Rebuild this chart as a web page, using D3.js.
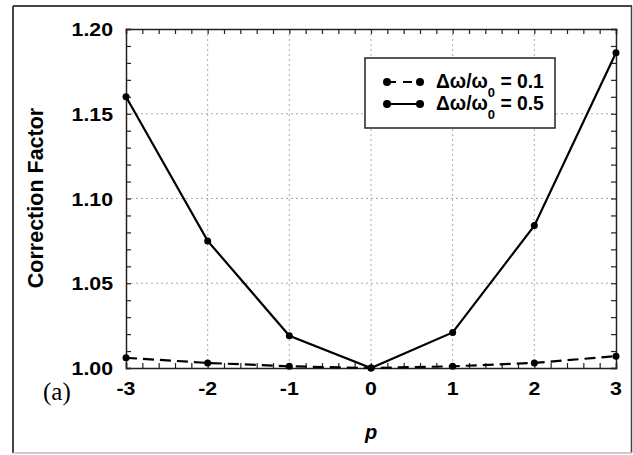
<!DOCTYPE html>
<html>
<head>
<meta charset="utf-8">
<script src="https://cdn.jsdelivr.net/npm/d3@7"></script>
<style>
body{margin:0;background:#fff;}
</style>
</head>
<body>
<div id="vis"></div>
<script>
// data
var pValues = [-3,-2,-1,0,1,2,3];
var cf01 = [1.006,1.003,1.001,1.000,1.001,1.003,1.007];
var cf05 = [1.160,1.075,1.019,1.000,1.021,1.084,1.186];
var xTicks = [-3,-2,-1,0,1,2,3];
var yTicks = [1.00,1.05,1.10,1.15,1.20];
var legendLabels = ["0.1","0.5"];

var sans = "Arial,'Liberation Sans',sans-serif";
var svg = d3.select("#vis").append("svg").attr("width",633).attr("height",455)
    .style("font-family",sans);

// the source figure's lettering is a bit wider than plain Arial
function widen(sel, k){
    sel.each(function(){
        var w = this.getComputedTextLength();
        d3.select(this).attr("textLength",w*k).attr("lengthAdjust","spacingAndGlyphs");});}

// outer frame: dark top/left/right, light bottom
svg.append("line").attr("x1",13).attr("x2",632).attr("y1",6).attr("y2",6).attr("stroke","#444").attr("stroke-width",2);
svg.append("line").attr("x1",13).attr("x2",13).attr("y1",6).attr("y2",453).attr("stroke","#444").attr("stroke-width",2);
svg.append("line").attr("x1",631.5).attr("x2",631.5).attr("y1",6).attr("y2",453).attr("stroke","#444").attr("stroke-width",1.5);
svg.append("line").attr("x1",13).attr("x2",632).attr("y1",453).attr("y2",453).attr("stroke","#bbb").attr("stroke-width",1.5);

var x = d3.scaleLinear().domain([-3,3]).range([126,616]);
var y = d3.scaleLinear().domain([1.0,1.2]).range([368,29]);

// grid lines
svg.append("g").selectAll("line").data(xTicks.slice(1,-1)).enter().append("line")
    .attr("x1",d=>x(d)).attr("x2",d=>x(d)).attr("y1",y(1.2)).attr("y2",y(1.0))
    .attr("stroke","#aaa").attr("stroke-width",1).attr("stroke-dasharray","2,3");
svg.append("g").selectAll("line").data(yTicks.slice(1,-1)).enter().append("line")
    .attr("x1",x(-3)).attr("x2",x(3)).attr("y1",d=>y(d)).attr("y2",d=>y(d))
    .attr("stroke","#aaa").attr("stroke-width",1).attr("stroke-dasharray","2,3");

// axes with inside ticks on all four sides
var fmt = d3.format(".2f");
var minorX = d3.range(-3,3.001,0.2), minorY = d3.range(1.0,1.2001,0.01);
function addAxis(axis, tr){
    return svg.append("g").attr("transform",tr).call(axis);}
var axB = addAxis(d3.axisBottom(x).tickValues(minorX).tickSize(-5).tickFormat(""), "translate(0,"+y(1.0)+")");
var axT = addAxis(d3.axisTop(x).tickValues(minorX).tickSize(-5).tickFormat(""), "translate(0,"+y(1.2)+")");
var axL = addAxis(d3.axisLeft(y).tickValues(minorY).tickSize(-5).tickFormat(""), "translate("+x(-3)+",0)");
var axR = addAxis(d3.axisRight(y).tickValues(minorY).tickSize(-5).tickFormat(""), "translate("+x(3)+",0)");
[axB,axT,axL,axR].forEach(function(a){
    a.select(".domain").attr("stroke","#222").attr("stroke-width",1.5);
    a.selectAll(".tick line").attr("stroke","#222").attr("stroke-width",1.2);});

// tick labels
var xl = svg.append("g").selectAll("text").data(xTicks).enter().append("text")
    .attr("x",d=>x(d)).attr("y",395).attr("text-anchor","middle")
    .attr("font-size",18.5).attr("font-weight","bold").text(d=>d);
widen(xl,1.15);
var yl = svg.append("g").selectAll("text").data(yTicks).enter().append("text")
    .attr("x",113).attr("y",d=>y(d)+7).attr("text-anchor","end")
    .attr("font-size",18.5).attr("font-weight","bold").text(d=>fmt(d));
widen(yl,1.15);

// axis titles
svg.append("text").attr("transform","translate(43,198) rotate(-90)").attr("text-anchor","middle")
    .attr("font-size",21.5).attr("font-weight","bold").text("Correction Factor");
svg.append("text").attr("x",371).attr("y",439).attr("text-anchor","middle")
    .attr("font-size",20).attr("font-weight","bold").attr("font-style","italic").text("p");
svg.append("text").attr("x",43).attr("y",400)
    .style("font-family","'Liberation Serif','Times New Roman',serif")
    .attr("font-size",25).text("(a)");

// series
var line = d3.line().x((d,i)=>x(pValues[i])).y(d=>y(d));
svg.append("path").datum(cf01).attr("d",line).attr("fill","none").attr("stroke","#000")
    .attr("stroke-width",2.2).attr("stroke-dasharray","11,6");
svg.append("path").datum(cf05).attr("d",line).attr("fill","none").attr("stroke","#000")
    .attr("stroke-width",2.2);
[cf01,cf05].forEach(function(s){
    svg.append("g").selectAll("circle").data(s).enter().append("circle")
        .attr("cx",(d,i)=>x(pValues[i])).attr("cy",d=>y(d)).attr("r",3.5).attr("fill","#000");});

// legend
var lg = svg.append("g");
lg.append("rect").attr("x",365).attr("y",58).attr("width",190).attr("height",70)
    .attr("fill","#fff").attr("stroke","#222").attr("stroke-width",1.5);
legendLabels.forEach(function(lab,i){
    var ly = 82 + i*22;
    lg.append("line").attr("x1",387).attr("x2",420).attr("y1",ly).attr("y2",ly)
        .attr("stroke","#000").attr("stroke-width",2.2).attr("stroke-dasharray",i==0?"9,7":null);
    lg.append("circle").attr("cx",387).attr("cy",ly).attr("r",4);
    lg.append("circle").attr("cx",420).attr("cy",ly).attr("r",4);
    var t = lg.append("text").attr("x",436).attr("y",ly+6).attr("font-size",19.3).attr("font-weight","bold");
    t.append("tspan").text("\u0394\u03c9/\u03c9");
    t.append("tspan").attr("dy",9).attr("font-size",13).text("0");
    t.append("tspan").attr("dy",-9).text(" = "+lab);});
</script>
</body>
</html>
